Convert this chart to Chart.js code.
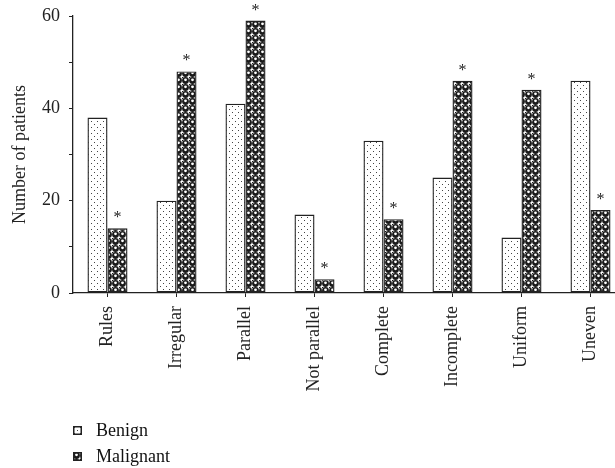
<!DOCTYPE html>
<html>
<head>
<meta charset="utf-8">
<script src="https://cdn.jsdelivr.net/npm/chart.js@4"></script>
<style>
  html, body { margin: 0; padding: 0; background: #fff; overflow: hidden; }
  #wrap { position: relative; width: 640px; height: 468px; }
  #legend { position: absolute; left: 73px; top: 417px; font-family: "Liberation Serif", serif; font-size: 18px; color: #111; }
  #legend div { display: flex; align-items: center; height: 26px; }
  #legend canvas { width: 9px; height: 9px; margin-right: 14px; }
</style>
</head>
<body>
<div id="wrap">
  <canvas id="chart" width="640" height="468"></canvas>
  <div id="legend"></div>
</div>
<script>
const categories = ["Rules", "Irregular", "Parallel", "Not parallel", "Complete", "Incomplete", "Uniform", "Uneven"];
const benign    = [38, 20, 41, 17, 33, 25, 12, 46];
const malignant = [14, 48, 59, 3, 16, 46, 44, 18];
const seriesNames = ["Benign", "Malignant"];
const yTicks = [0, 20, 40, 60];

const SERIF = '"Liberation Serif", "DejaVu Serif", serif';

// ─── Patterns ────────────────────────────────────────────────────────────────

function dotPattern() {
  const c = document.createElement("canvas");
  c.width = 6; c.height = 6;
  const g = c.getContext("2d");
  g.fillStyle = "#fff";
  g.fillRect(0, 0, 6, 6);
  g.fillStyle = "#444";
  g.fillRect(1, 1, 1, 1);
  g.fillRect(4, 4, 1, 1);
  return g.createPattern(c, "repeat");
}

function ringPattern() {
  const c = document.createElement("canvas");
  c.width = 7; c.height = 7;
  const g = c.getContext("2d");
  g.fillStyle = "#fff";
  g.fillRect(0, 0, 7, 7);
  g.fillStyle = "#1a1a1a";
  g.beginPath();
  g.arc(3.5, 3.5, 3.4, 0, Math.PI * 2);
  g.fill();
  g.fillStyle = "#fff";
  g.beginPath();
  g.arc(3.5, 2.8, 1.4, 0, Math.PI * 2);
  g.fill();
  g.fillStyle = "#1a1a1a";
  g.fillRect(0, 0, 1, 1);
  return g.createPattern(c, "repeat");
}

const fills = [dotPattern(), ringPattern()];

// ─── Stars above malignant bars ─────────────────────────────────────────────

const starPlugin = {
  id: "stars",
  afterDatasetsDraw(chart) {
    const ctx = chart.ctx;
    const meta = chart.getDatasetMeta(1);
    ctx.save();
    ctx.fillStyle = "#222";
    ctx.font = "16px " + SERIF;
    ctx.textAlign = "center";
    ctx.textBaseline = "alphabetic";
    meta.data.forEach(bar => {
      ctx.fillText("*", bar.x, bar.y - 6);
    });
    ctx.restore();
  }
};

// ─── Chart ───────────────────────────────────────────────────────────────────

new Chart(document.getElementById("chart"), {
  type: "bar",
  data: {
    labels: categories,
    datasets: [benign, malignant].map((vals, i) => ({
      label: seriesNames[i],
      data: vals,
      backgroundColor: fills[i],
      borderColor: "#222",
      borderWidth: 1.4,
      borderSkipped: false,
      categoryPercentage: 0.58,
      barPercentage: 1.0
    }))
  },
  options: {
    responsive: false,
    animation: false,
    devicePixelRatio: 1,
    layout: { padding: { top: 16, right: 15, bottom: 0, left: 0 } },
    plugins: {
      legend: { display: false },
      tooltip: { enabled: false }
    },
    scales: {
      x: {
        offset: true,
        afterFit: s => { s.height = 175; },
        grid: { drawOnChartArea: false, offset: false, tickLength: 4, color: "#222", tickWidth: 1 },
        border: { color: "#222", width: 1.3 },
        ticks: {
          color: "#222",
          font: { family: SERIF, size: 18 },
          minRotation: 90,
          maxRotation: 90,
          autoSkip: false,
          padding: 9
        }
      },
      y: {
        min: 0,
        max: 60,
        afterFit: s => { s.width = 73; s.paddingTop = 0; s.paddingBottom = 0; },
        grid: { drawOnChartArea: false, tickLength: 4, color: "#222", tickWidth: 1 },
        border: { color: "#222", width: 1.3 },
        ticks: {
          stepSize: 10,
          color: "#222",
          font: { family: SERIF, size: 18 },
          padding: 9,
          callback: v => yTicks.includes(v) ? v : ""
        },
        title: {
          display: true,
          text: "Number of patients",
          color: "#222",
          font: { family: SERIF, size: 18 },
          padding: { top: 9, bottom: 0 }
        }
      }
    }
  },
  plugins: [starPlugin]
});

// ─── Legend (vertical, bottom-left) ─────────────────────────────────────────

const legend = document.getElementById("legend");
seriesNames.forEach((name, i) => {
  const row = document.createElement("div");
  const box = document.createElement("canvas");
  box.width = 9; box.height = 9;
  const g = box.getContext("2d");
  g.fillStyle = fills[i];
  g.fillRect(0, 0, 9, 9);
  g.strokeStyle = "#222";
  g.lineWidth = 1.5;
  g.strokeRect(0.75, 0.75, 7.5, 7.5);
  row.appendChild(box);
  const label = document.createElement("span");
  label.textContent = name;
  row.appendChild(label);
  legend.appendChild(row);
});
</script>
</body>
</html>
